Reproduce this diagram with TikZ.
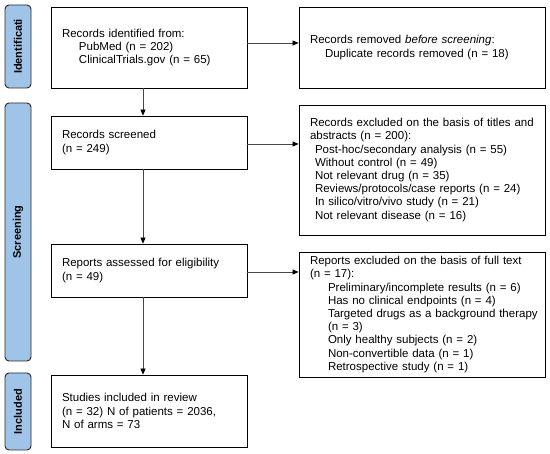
\documentclass[tikz,border=0pt]{standalone}
\usepackage{fontspec}
\setmainfont{Liberation Sans}
\usetikzlibrary{arrows.meta}
\definecolor{sidefill}{RGB}{160,196,232}
\definecolor{sideline}{RGB}{40,40,40}
\definecolor{arrline}{RGB}{70,70,70}
\tikzset{
  box/.style={draw=black, line width=0.8pt, inner xsep=11pt, inner ysep=2pt,
    align=left, font=\fontsize{11.5}{13.2}\selectfont},
  side/.style={draw=sideline, fill=sidefill, line width=0.9pt, rounded corners=4pt,
    rotate=90, inner sep=0pt, font=\fontsize{11}{13}\selectfont\bfseries},
  arr/.style={draw=arrline, line width=0.6pt, -{Triangle[length=6pt,width=5pt,fill=black,color=black]}}
}
\newcommand{\ind}[1]{\hspace*{#1pt}}
\begin{document}
\begin{tikzpicture}[x=1pt,y=1pt]
\useasboundingbox (0,0) rectangle (550,-454);
% side labels
\node[side, minimum width=83pt, minimum height=26pt] (s1) at (18,-46.5) {Identificati};
\node[side, minimum width=258pt, minimum height=26pt] (s2) at (18,-232) {Screening};
\node[side, minimum width=77pt, minimum height=26pt] (s3) at (18,-411.5) {Included};
% boxes
\node[box, text width=174pt, minimum height=81pt] (id) at (149,-47.5)
  {Records identified from:\\ \ind{17}PubMed (n = 202)\\ \ind{17}ClinicalTrials.gov (n = 65)};
\node[box, text width=224pt, minimum height=81pt] (rem) at (422,-47.5)
  {Records removed \textit{before screening}:\\ \ind{15}Duplicate records removed (n = 18)};
\node[box, text width=174pt, minimum height=53pt] (scr) at (149,-142.5)
  {Records screened\\(n = 249)};
\node[box, text width=224pt, minimum height=130pt] (exc1) at (422,-170)
  {Records excluded on the basis of titles and\\abstracts (n = 200):\\
   \ind{5}Post-hoc/secondary analysis (n = 55)\\
   \ind{5}Without control (n = 49)\\
   \ind{5}Not relevant drug (n = 35)\\
   \ind{5}Reviews/protocols/case reports (n = 24)\\
   \ind{5}In silico/vitro/vivo study (n = 21)\\
   \ind{5}Not relevant disease (n = 16)};
\node[box, text width=174pt, minimum height=53pt] (ass) at (149,-270.5)
  {Reports assessed for eligibility\\(n = 49)};
\node[box, text width=224pt, minimum height=125pt] (exc2) at (422,-314.5)
  {Reports excluded on the basis of full text\\(n = 17):\\
   \ind{18}Preliminary/incomplete results (n = 6)\\
   \ind{18}Has no clinical endpoints (n = 4)\\
   \ind{18}\mbox{Targeted drugs as a background therapy}\\
   \ind{18}(n = 3)\\
   \ind{18}Only healthy subjects (n = 2)\\
   \ind{18}Non-convertible data (n = 1)\\
   \ind{18}Retrospective study (n = 1)};
\node[box, text width=174pt, minimum height=72pt] (inc) at (149,-411)
  {Studies included in review\\(n = 32) N of patients = 2036,\\N of arms = 73};
% connector helpers
\coordinate (vx) at (143,0);
\coordinate (h1) at (0,-43);
\coordinate (h2) at (0,-144);
\coordinate (h3) at (0,-272);
% connectors
\draw[arr] (id.south -| vx) -- (scr.north -| vx);
\draw[arr] (scr.south -| vx) -- (ass.north -| vx);
\draw[arr] (ass.south -| vx) -- (inc.north -| vx);
\draw[arr] (id.east |- h1) -- (rem.west |- h1);
\draw[arr] (scr.east |- h2) -- (exc1.west |- h2);
\draw[arr] (ass.east |- h3) -- (exc2.west |- h3);
\end{tikzpicture}
\end{document}
